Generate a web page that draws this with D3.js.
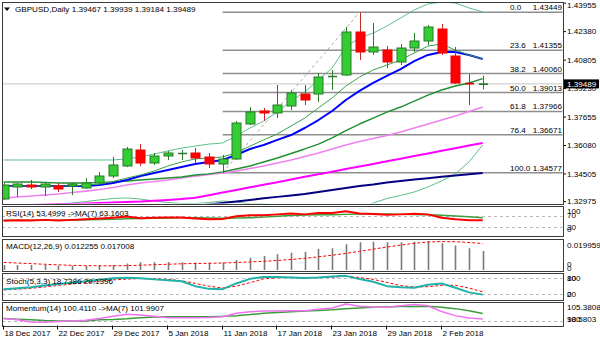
<!DOCTYPE html>
<html><head><meta charset="utf-8">
<script src="https://cdn.jsdelivr.net/npm/d3@7"></script>
<style>
body{margin:0;background:#fff;}
svg text{font-family:"Liberation Sans",Arial,sans-serif;font-size:8.1px;fill:#000;}
</style></head><body>
<svg id="chart" width="600" height="343"></svg>
<script>
// GBPUSD daily bars
const dates = ["2017-12-18","2017-12-19","2017-12-20","2017-12-21","2017-12-22","2017-12-26","2017-12-27","2017-12-28","2017-12-29",
  "2018-01-02","2018-01-03","2018-01-04","2018-01-05","2018-01-08","2018-01-09","2018-01-10","2018-01-11","2018-01-12",
  "2018-01-15","2018-01-16","2018-01-17","2018-01-18","2018-01-19","2018-01-22","2018-01-23","2018-01-24","2018-01-25",
  "2018-01-26","2018-01-29","2018-01-30","2018-01-31","2018-02-01","2018-02-02","2018-02-05","2018-02-06","2018-02-07"];
const open  = [1.33122,1.33786,1.33897,1.33786,1.33841,1.33841,1.33731,1.34007,1.34394,1.34948,1.35832,1.35113,1.35501,1.35611,1.35667,1.35445,1.35058,1.35335,1.37271,1.37990,1.37879,1.38266,1.38930,1.38930,1.39870,1.39981,1.42359,1.41253,1.41364,1.40700,1.41474,1.41861,1.42525,1.41032,1.39538,1.39467];
const high  = [1.34007,1.34007,1.34173,1.34007,1.34007,1.34007,1.34284,1.34616,1.35445,1.35998,1.36164,1.35667,1.35777,1.35832,1.35943,1.35667,1.35556,1.37436,1.38211,1.38156,1.39428,1.39151,1.39428,1.40091,1.40257,1.42636,1.43449,1.42857,1.41585,1.41695,1.42304,1.42746,1.42802,1.41529,1.40036,1.39939];
const low   = [1.33067,1.33233,1.33675,1.33288,1.33509,1.33344,1.33675,1.33952,1.34284,1.34892,1.34948,1.35003,1.35279,1.35279,1.35113,1.34837,1.34577,1.35279,1.37215,1.37436,1.37602,1.38045,1.38321,1.38487,1.39151,1.39925,1.40810,1.41087,1.40368,1.40534,1.41253,1.41640,1.41087,1.39483,1.38321,1.39184];
const close = [1.33897,1.33952,1.33786,1.33952,1.33675,1.33952,1.34007,1.34394,1.35003,1.35888,1.35113,1.35501,1.35667,1.35667,1.35390,1.35058,1.35335,1.37326,1.37934,1.37879,1.38321,1.38985,1.38598,1.39870,1.39925,1.42359,1.41253,1.41529,1.40700,1.41474,1.41861,1.42636,1.41198,1.39538,1.39467,1.39489];

// moving averages and Bollinger bands on the price panel
const maFast   = [1.3384,1.3384,1.3384,1.3384,1.3384,1.3384,1.3390,1.3395,1.3409,1.3428,1.3445,1.3467,1.3495,1.3517,1.3534,1.3539,1.3545,1.3567,1.3605,1.3639,1.3672,1.3716,1.3760,1.3816,1.3871,1.3937,1.3987,1.4026,1.4053,1.4081,1.4120,1.4158,1.4170,1.4136,1.4109,1.4087];
const maBlue   = [1.3384,1.3384,1.3384,1.3384,1.3384,1.3384,1.3384,1.3390,1.3401,1.3417,1.3439,1.3456,1.3473,1.3489,1.3506,1.3517,1.3528,1.3556,1.3589,1.3611,1.3639,1.3666,1.3705,1.3749,1.3799,1.3860,1.3910,1.3954,1.3993,1.4031,1.4075,1.4109,1.4125,1.4125,1.4109,1.4087];
const bbMid    = [1.3406,1.3406,1.3406,1.3404,1.3401,1.3401,1.3401,1.3404,1.3406,1.3412,1.3417,1.3423,1.3428,1.3434,1.3445,1.3451,1.3462,1.3478,1.3495,1.3517,1.3539,1.3564,1.3589,1.3616,1.3650,1.3691,1.3727,1.3760,1.3793,1.3821,1.3854,1.3887,1.3915,1.3937,1.3954,1.3978];
const bbUpper  = [1.3528,1.3528,1.3528,1.3528,1.3528,1.3528,1.3528,1.3528,1.3528,1.3534,1.3545,1.3561,1.3578,1.3594,1.3605,1.3616,1.3622,1.3661,1.3705,1.3744,1.3793,1.3854,1.3904,1.3970,1.4037,1.4153,1.4203,1.4230,1.4269,1.4313,1.4358,1.4391,1.4402,1.4396,1.4369,1.4347];
const bbLower  = [1.3274,1.3276,1.3279,1.3282,1.3285,1.3290,1.3298,1.3307,1.3315,1.3318,1.3312,1.3301,1.3293,1.3287,1.3287,1.3293,1.3301,1.3296,1.3285,1.3285,1.3279,1.3274,1.3268,1.3262,1.3257,1.3229,1.3251,1.3290,1.3315,1.3332,1.3351,1.3379,1.3412,1.3451,1.3517,1.3611];
const maOrchid = [1.3318,1.3323,1.3329,1.3334,1.3340,1.3348,1.3356,1.3365,1.3376,1.3390,1.3401,1.3409,1.3417,1.3428,1.3439,1.3448,1.3456,1.3467,1.3481,1.3495,1.3511,1.3528,1.3547,1.3567,1.3589,1.3611,1.3630,1.3647,1.3663,1.3683,1.3705,1.3727,1.3749,1.3771,1.3796,1.3821];
const maMagenta= [1.3274,1.3276,1.3279,1.3282,1.3284,1.3285,1.3287,1.3290,1.3293,1.3296,1.3298,1.3302,1.3307,1.3312,1.3319,1.3333,1.3348,1.3362,1.3377,1.3391,1.3405,1.3420,1.3435,1.3449,1.3463,1.3478,1.3492,1.3506,1.3521,1.3535,1.3550,1.3564,1.3579,1.3593,1.3608,1.3622];
const maNavy   = [1.3157,1.3166,1.3174,1.3182,1.3191,1.3199,1.3207,1.3216,1.3224,1.3232,1.3240,1.3249,1.3257,1.3265,1.3274,1.3282,1.3290,1.3298,1.3307,1.3316,1.3324,1.3332,1.3340,1.3351,1.3362,1.3373,1.3384,1.3393,1.3404,1.3412,1.3420,1.3427,1.3435,1.3442,1.3449,1.3456];

// Fibonacci retracement (anchored low bar 16, high bar 26)
const fibLevels = ["0.0","23.6","38.2","50.0","61.8","76.4","100.0","123.6"];
const fibPrices = [1.43449,1.41355,1.40060,1.39013,1.37966,1.36671,1.34577,1.32483];
const fibLowIdx = 16, fibHighIdx = 26;

const priceTicks = [1.43955,1.42380,1.40805,1.39230,1.37655,1.36080,1.34505,1.32975];

// sub-window indicators
const rsi    = [52,54,53,55,53,55,57,60,63,67,61,63,64,64,60,57,58,68,72,72,75,78,75,80,80,86,78,76,74,75,77,75,63,57,54,53.4999];
const rsiMA  = [54,54,54,54,54,54,55,56,57,59,60,61,62,63,63,62,61,62,63,65,68,71,73,74,74,75,76,76,76,75,75,74,72,69,66,63.1603];
const macd   = [0.0032,0.0032,0.0032,0.0032,0.0028,0.0028,0.0028,0.0032,0.0032,0.0042,0.0050,0.0050,0.0051,0.0050,0.0048,0.0046,0.0048,0.0064,0.0079,0.0090,0.0101,0.0111,0.0118,0.0135,0.0140,0.0166,0.0178,0.0182,0.0178,0.0178,0.0182,0.0187,0.0172,0.0157,0.0140,0.012255];
const macdSignal = [0.0049,0.0045,0.0041,0.0037,0.0033,0.0030,0.0028,0.0027,0.0027,0.0028,0.0031,0.0034,0.0037,0.0040,0.0042,0.0043,0.0045,0.0048,0.0052,0.0056,0.0061,0.0068,0.0075,0.0085,0.0095,0.0107,0.0120,0.0134,0.0148,0.0160,0.0172,0.0180,0.0183,0.0182,0.0177,0.017008];
const stochMain   = [39,42,46,52,58,63,68,74,79,81,79,75,72,68,50,40,39,60,77,84,84,82,80,82,86,88,76,66,50,46,44,55,60,44,27,18.7386];
const stochSignal = [36,39,42,47,53,58,63,68,73,76,78,77,75,70,60,50,43,50,63,77,81,82,81,81,83,86,82,75,64,52,47,48,53,53,43,29.1396];
const momentum   = [100.6,100.2,99.6,99.5,99.7,99.9,100.1,100.6,101.2,101.8,101.6,101.2,100.8,100.8,100.8,100.9,101.1,102.1,102.5,102.7,102.7,102.8,102.8,103.2,103.6,104.7,104.1,103.9,103.8,104.2,104.6,104.2,102.6,101.4,100.7,100.411];
const momentumMA = [100.6,100.4,100.2,100.0,99.9,99.9,99.9,100.2,100.3,100.5,100.8,101.0,101.1,101.1,101.1,101.1,101.2,101.4,101.7,102.1,102.3,102.5,102.7,102.9,103.1,103.4,103.6,103.8,103.9,104.0,104.0,104.1,103.8,103.4,102.8,101.9907];

// ---------------------------------------------------------------
const svg = d3.select("#chart");
const L = 2, R = 563;
const panels = {
  main:  {top: 2,     bottom: 204},
  rsi:   {top: 206,   bottom: 236},
  macd:  {top: 238.5, bottom: 270.5},
  stoch: {top: 273,   bottom: 299.5},
  mom:   {top: 301.5, bottom: 325.5}
};

const x = d3.scaleLinear().domain([0, dates.length - 1]).range([3.6, 482.7]);
const y = d3.scaleLinear().domain([fibPrices[6], fibPrices[0]]).range([172.7, 12.3]);
const yRsi = d3.scaleLinear().domain([0, 100]).range([235, 207.5]);
const yMacd = d3.scaleLinear().domain([0, 0.019959]).range([270, 239]);
const yStoch = d3.scaleLinear().domain([0, 100]).range([299.7, 272.6]);
const yMom = d3.scaleLinear().domain([98.5803, 105.3808]).range([325.5, 301.7]);

const defs = svg.append("defs");
Object.entries(panels).forEach(([k, p]) => {
  defs.append("clipPath").attr("id", "clip-" + k)
    .append("rect").attr("x", L + 0.5).attr("y", p.top + 0.5)
    .attr("width", R - L - 1).attr("height", p.bottom - p.top - 1);
});
const layer = k => svg.append("g").attr("clip-path", `url(#clip-${k})`);

const path = (g, data, ys, color, w, dash) => {
  const ln = d3.line().x((d, i) => x(i)).y(d => ys(d));
  const el = g.append("path").datum(data).attr("d", ln)
    .attr("fill", "none").attr("stroke", color).attr("stroke-width", w)
    .attr("stroke-linejoin", "round");
  if (dash) el.attr("stroke-dasharray", dash);
  return el;
};
const hDash = (g, yy) => g.append("line").attr("x1", L).attr("x2", R)
  .attr("y1", Math.round(yy) + 0.5).attr("y2", Math.round(yy) + 0.5)
  .attr("stroke", "#b8b8b8").attr("stroke-dasharray", "3,3");

// ---------- price panel ----------
const gm = layer("main");
// bid line
gm.append("line").attr("x1", L).attr("x2", R)
  .attr("y1", y(close[close.length - 1])).attr("y2", y(close[close.length - 1]))
  .attr("stroke", "#c4c4c4").attr("stroke-width", 1);

// Fibonacci levels
fibPrices.forEach((p, i) => {
  const yy = y(p);
  gm.append("line").attr("x1", x(fibLowIdx)).attr("x2", R)
    .attr("y1", yy).attr("y2", yy).attr("stroke", "#8e8e8e").attr("stroke-width", 1.5);
  gm.append("text").attr("x", 510).attr("y", yy - 2).text(fibLevels[i]);
  gm.append("text").attr("x", 562).attr("y", yy - 2).attr("text-anchor", "end").text(p.toFixed(5));
});
gm.append("line")
  .attr("x1", x(fibLowIdx)).attr("y1", y(low[fibLowIdx]))
  .attr("x2", x(fibHighIdx)).attr("y2", y(high[fibHighIdx]))
  .attr("stroke", "#a8a8a8").attr("stroke-dasharray", "3,3");

// indicator lines
path(gm, bbUpper, y, "#5cbf8a", 1);
path(gm, bbLower, y, "#5cbf8a", 1);
path(gm, maNavy, y, "#000080", 2);
path(gm, maMagenta, y, "#ff00ff", 2);
path(gm, maOrchid, y, "#ee82ee", 1.6);
path(gm, bbMid, y, "#1f8f2f", 1.4);
path(gm, maBlue, y, "#0000ff", 2);
path(gm, maFast, y, "#3aa04a", 1);

// candles
dates.forEach((d, i) => {
  const bull = close[i] >= open[i];
  const cx = Math.round(x(i)) + 0.5;
  const wick = bull ? "#2a7a2a" : "#c82828";
  gm.append("line").attr("x1", cx).attr("x2", cx)
    .attr("y1", y(high[i])).attr("y2", y(low[i]))
    .attr("stroke", wick).attr("stroke-width", 1);
  const top = y(Math.max(open[i], close[i]));
  const h = Math.abs(y(open[i]) - y(close[i]));
  if (h < 1.5) {
    gm.append("line").attr("x1", cx - 4.5).attr("x2", cx + 4.5)
      .attr("y1", top + h / 2).attr("y2", top + h / 2)
      .attr("stroke", bull ? "#2a7a2a" : "#e00000").attr("stroke-width", 1.6);
  } else {
    gm.append("rect").attr("x", cx - 4.5).attr("y", top).attr("width", 9).attr("height", h)
      .attr("fill", bull ? "#33cc33" : "#ff0000")
      .attr("stroke", bull ? "#2a7a2a" : "#ee0000").attr("stroke-width", 1);
  }
});

// price axis
priceTicks.forEach(p => {
  const yy = y(p);
  svg.append("line").attr("x1", R).attr("x2", R + 3).attr("y1", yy).attr("y2", yy).attr("stroke", "#000");
  svg.append("text").attr("x", 567).attr("y", Math.max(yy, 5.5)).attr("dy", "0.35em").text(p.toFixed(5));
});
const last = close[close.length - 1];
svg.append("rect").attr("x", 564).attr("y", y(last) - 4.5).attr("width", 35).attr("height", 9).attr("fill", "#000");
svg.append("text").attr("x", 567).attr("y", y(last)).attr("dy", "0.35em").style("fill", "#fff").text(last.toFixed(5));

// title
svg.append("path").attr("d", "M4,7.5 L10,7.5 L7,11 Z").attr("fill", "#000");
const n = dates.length - 1;
svg.append("text").attr("x", 15).attr("y", 9.5).attr("dy", "0.35em")
  .text(`GBPUSD,Daily  ${open[n].toFixed(5)} ${high[n].toFixed(5)} ${low[n].toFixed(5)} ${close[n].toFixed(5)}`);

// ---------- RSI ----------
const gr = layer("rsi");
hDash(gr, yRsi(70)); hDash(gr, yRsi(30));
path(gr, rsiMA, yRsi, "#3c9c3c", 1.5);
path(gr, rsi, yRsi, "#ff0000", 2);
svg.append("text").attr("x", 6).attr("y", 213).attr("dy", "0.35em")
  .text(`RSI(14) ${rsi[n].toFixed(4)} ->MA(7) ${rsiMA[n].toFixed(4)}`);
[["100", 211.5], ["70", 215], ["30", 226.7], ["0", 229.5]].forEach(([t, yy]) =>
  svg.append("text").attr("x", 567).attr("y", yy).attr("dy", "0.35em").text(t));

// ---------- MACD ----------
const gc = layer("macd");
macd.forEach((v, i) => {
  const cx = Math.round(x(i)) + 0.5;
  gc.append("line").attr("x1", cx).attr("x2", cx).attr("y1", yMacd(0)).attr("y2", yMacd(v))
    .attr("stroke", "#7a7a7a").attr("stroke-width", 1.6);
});
path(gc, macdSignal, yMacd, "#ff0000", 1, "3,2");
svg.append("text").attr("x", 6).attr("y", 246.5).attr("dy", "0.35em")
  .text(`MACD(12,26,9) ${macd[n].toFixed(6)} ${macdSignal[n].toFixed(6)}`);
svg.append("text").attr("x", 567).attr("y", 245).attr("dy", "0.35em").text("0.019959");
svg.append("text").attr("x", 567).attr("y", 264.5).attr("dy", "0.35em").text("0");
svg.append("text").attr("x", 567).attr("y", 268).attr("dy", "0.35em").text("0");

// ---------- Stochastic ----------
const gs = layer("stoch");
hDash(gs, yStoch(80)); hDash(gs, yStoch(20));
path(gs, stochSignal, yStoch, "#ff0000", 1, "3,2");
path(gs, stochMain, yStoch, "#20b2aa", 2);
svg.append("text").attr("x", 6).attr("y", 281).attr("dy", "0.35em")
  .text(`Stoch(5,3,3) ${stochMain[n].toFixed(4)} ${stochSignal[n].toFixed(4)}`);
[["100", 278.5], ["80", 278.5], ["20", 294.3], ["0", 294.3]].forEach(([t, yy]) =>
  svg.append("text").attr("x", 567).attr("y", yy).attr("dy", "0.35em").text(t));

// ---------- Momentum ----------
const go = layer("mom");
hDash(go, yMom(100));
path(go, momentumMA, yMom, "#3c9c3c", 1.5);
path(go, momentum, yMom, "#f070f0", 1.5);
svg.append("text").attr("x", 6).attr("y", 308.5).attr("dy", "0.35em")
  .text(`Momentum(14) ${momentum[n].toFixed(4)}  ->MA(7) ${momentumMA[n].toFixed(4)}`);
svg.append("text").attr("x", 567).attr("y", 307.5).attr("dy", "0.35em").text("105.3808");
svg.append("text").attr("x", 567).attr("y", 319.5).attr("dy", "0.35em").text("98.5803");
svg.append("text").attr("x", 567).attr("y", 319.5).attr("dy", "0.35em").text("100");

// panel frames
Object.values(panels).forEach(p => {
  svg.append("rect").attr("x", L + 0.5).attr("y", Math.round(p.top) + 0.5)
    .attr("width", R - L).attr("height", Math.round(p.bottom) - Math.round(p.top))
    .attr("fill", "none").attr("stroke", "#3a3a3a").attr("stroke-width", 1);
});

// time axis
const parse = d3.timeParse("%Y-%m-%d"), fmt = d3.timeFormat("%-d %b %Y");
dates.forEach((d, i) => {
  if (i % 4 !== 0) return;
  const tx = Math.round(x(i)) - 0.5;
  svg.append("line").attr("x1", tx).attr("x2", tx).attr("y1", 325.5).attr("y2", 329.5).attr("stroke", "#000");
  svg.append("text").attr("x", tx + 1).attr("y", 333.5).attr("dy", "0.35em").text(fmt(parse(d)));
});
</script>
</body></html>
